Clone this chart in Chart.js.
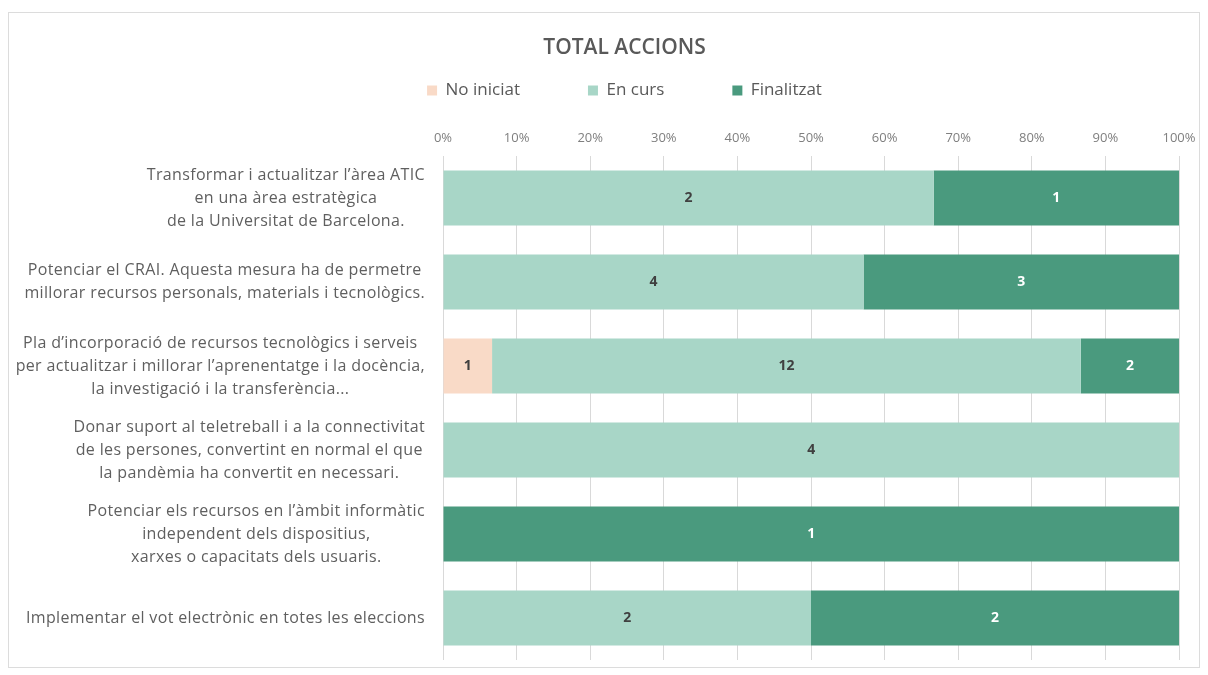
<!DOCTYPE html>
<html><head><meta charset="utf-8">
<script src="https://cdn.jsdelivr.net/npm/chart.js@4"></script>
<style>
html,body{margin:0;padding:0;background:#fff;width:1208px;height:675px;overflow:hidden;}
#frame{position:absolute;left:8px;top:12px;width:1192px;height:656px;border:1px solid #dcdcdc;box-sizing:border-box;}
#wrap{position:absolute;left:0;top:0;width:1208px;height:675px;}
</style></head><body>
<div id="frame"></div>
<div id="wrap"><canvas id="c" width="1208" height="675"></canvas></div>
<script>
const categories = [
  ["Transformar i actualitzar l’àrea ATIC", "en una àrea estratègica", "de la Universitat de Barcelona."],
  ["Potenciar el CRAI. Aquesta mesura ha de permetre", "millorar recursos personals, materials i tecnològics."],
  ["Pla d’incorporació de recursos tecnològics i serveis", "per actualitzar i millorar l’aprenentatge i la docència,", "la investigació i la transferència..."],
  ["Donar suport al teletreball i a la connectivitat", "de les persones, convertint en normal el que", "la pandèmia ha convertit en necessari."],
  ["Potenciar els recursos en l’àmbit informàtic", "independent dels dispositius,", "xarxes o capacitats dels usuaris."],
  ["Implementar el vot electrònic en totes les eleccions"]
];
const seriesNames = ["No iniciat", "En curs", "Finalitzat"];
const noIniciat  = [0, 0, 1, 0, 0, 0];
const enCurs     = [2, 4, 12, 4, 0, 2];
const finalitzat = [1, 3, 2, 0, 1, 2];
const xTickValues = [0, 10, 20, 30, 40, 50, 60, 70, 80, 90, 100];

const colors = ["#f9dac7", "#a8d6c7", "#4a9a7e"];
const labelColors = ["#404040", "#404040", "#ffffff"];
const counts = [noIniciat, enCurs, finalitzat];
const totals = categories.map((_, i) => noIniciat[i] + enCurs[i] + finalitzat[i]);
const pct = arr => arr.map((v, i) => totals[i] ? v / totals[i] * 100 : 0);

const FONT = "'Open Sans'";

const yLabelPlugin = {
  id: "yLabels",
  afterDraw(chart) {
    const ctx = chart.ctx, ys = chart.scales.y, area = chart.chartArea;
    ctx.save();
    ctx.font = "16px " + FONT;
    ctx.letterSpacing = "0.35px";
    ctx.fillStyle = "#5f5f5f";
    ctx.textAlign = "center";
    ctx.textBaseline = "middle";
    const lh = 23;
    categories.forEach((lines, i) => {
      const cy = ys.getPixelForValue(i);
      const maxW = Math.max(...lines.map(l => ctx.measureText(l).width));
      const cx = area.left - 18 - maxW / 2;
      const y0 = cy - (lines.length - 1) * lh / 2;
      lines.forEach((l, k) => ctx.fillText(l, cx, y0 + k * lh));
    });
    ctx.restore();
  }
};

const valueLabelPlugin = {
  id: "valueLabels",
  afterDatasetsDraw(chart) {
    const ctx = chart.ctx;
    ctx.save();
    ctx.font = "bold 14px " + FONT;
    ctx.textAlign = "center";
    ctx.textBaseline = "middle";
    chart.data.datasets.forEach((ds, di) => {
      const meta = chart.getDatasetMeta(di);
      meta.data.forEach((bar, i) => {
        const v = counts[di][i];
        if (!v) return;
        const p = bar.getCenterPoint();
        ctx.fillStyle = labelColors[di];
        ctx.fillText(String(v), p.x, p.y);
      });
    });
    ctx.restore();
  }
};

new Chart(document.getElementById("c"), {
  type: "bar",
  data: {
    labels: categories.map(l => l.join(" ")),
    datasets: seriesNames.map((name, k) => ({
      label: name,
      data: pct(counts[k]),
      backgroundColor: colors[k],
      borderWidth: 0,
      categoryPercentage: 1,
      barPercentage: 0.655
    }))
  },
  options: {
    indexAxis: "y",
    responsive: false,
    animation: false,
    devicePixelRatio: 1,
    layout: { padding: { top: 14, left: 70, right: 29, bottom: 15 } },
    plugins: {
      title: {
        display: true,
        text: "TOTAL ACCIONS",
        color: "#595959",
        font: { family: FONT, size: 21, weight: "600" },
        padding: { top: 21.4, bottom: -46.6 }
      },
      legend: {
        display: true,
        position: "top",
        labels: {
          boxWidth: 10, boxHeight: 10,
          padding: 68,
          color: "#595959",
          font: { family: FONT, size: 17 }
        }
      },
      tooltip: { enabled: false }
    },
    scales: {
      x: {
        position: "top",
        stacked: true,
        min: 0, max: 100,
        afterBuildTicks(scale) { scale.ticks = xTickValues.map(v => ({ value: v })); },
        afterFit(scale) { scale.height = 47; },
        ticks: {
          color: "#7f7f7f",
          font: { family: FONT, size: 13 },
          padding: 10,
          callback: v => v + "%"
        },
        grid: { color: "#d9d9d9", drawTicks: false },
        border: { display: false }
      },
      y: {
        stacked: true,
        ticks: { display: false },
        grid: { display: false },
        border: { display: false },
        afterFit(scale) { scale.width = 443 - 70; }
      }
    }
  },
  plugins: [yLabelPlugin, valueLabelPlugin]
});
</script>
</body></html>
